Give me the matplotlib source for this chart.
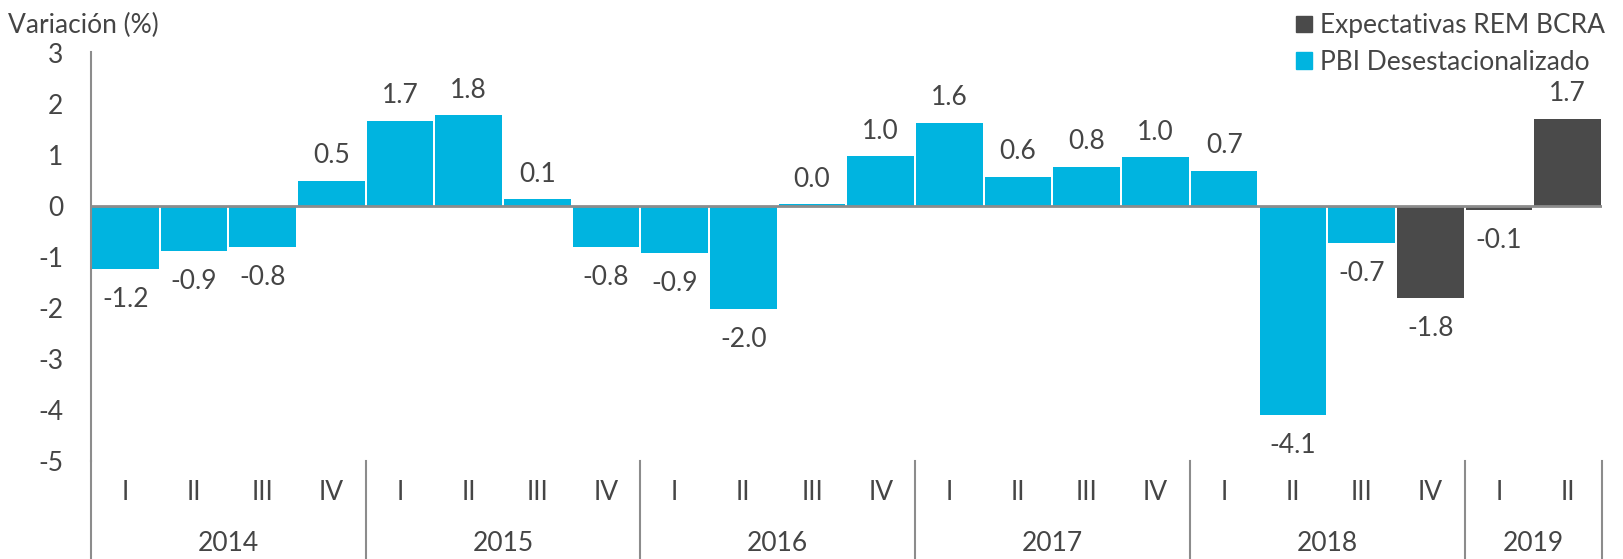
import matplotlib.pyplot as plt
from matplotlib.patches import Patch

# datos trimestrales (variación % desestacionalizada)
years = ["2014", "2015", "2016", "2017", "2018", "2019"]
quarters_per_year = [4, 4, 4, 4, 4, 2]
quarter_labels = ["I", "II", "III", "IV"] * 5 + ["I", "II"]
values = [-1.24, -0.88, -0.81, 0.50,
          1.67, 1.78, 0.13, -0.81,
          -0.92, -2.02, 0.04, 0.98,
          1.63, 0.57, 0.77, 0.96,
          0.69, -4.10, -0.73, -1.80,
          -0.08, 1.71]
is_rem = [False] * 19 + [True] * 3

CYAN = "#00B4E0"
DARK = "#4A4A4A"
TEXT = "#454545"
LINE = "#8C8C8C"
FS = 19

plt.rcParams["font.family"] = ["Lato", "DejaVu Sans"]
plt.rcParams["axes.unicode_minus"] = False

fig = plt.figure(figsize=(16.23, 5.59), dpi=100)
ax = fig.add_axes([0.056, 0.175, 0.931, 0.732])

x = list(range(len(values)))
colors = [DARK if r else CYAN for r in is_rem]
ax.bar(x, values, width=0.97, color=colors, zorder=2)
ax.axhline(0, color=LINE, lw=2, zorder=3)

for xi, v in zip(x, values):
    if v >= 0:
        ax.annotate(f"{v:.1f}", (xi, v), xytext=(0, 9), textcoords="offset points",
                    ha="center", va="bottom", fontsize=FS, color=TEXT)
    else:
        ax.annotate(f"{v:.1f}", (xi, v), xytext=(0, -13), textcoords="offset points",
                    ha="center", va="top", fontsize=FS, color=TEXT)

ax.set_xlim(-0.5, len(values) - 0.5)
ax.set_ylim(-5, 3.02)
ax.set_yticks(range(-5, 4))
ax.set_yticklabels([str(t) for t in range(-5, 4)], fontsize=FS, color=TEXT)
ax.tick_params(axis="y", length=0, pad=20)
ax.set_xticks([])

for s in ["top", "right", "bottom"]:
    ax.spines[s].set_visible(False)
ax.spines["left"].set_color(LINE)
ax.spines["left"].set_linewidth(1.5)

# etiquetas de trimestre y año debajo del eje
trans = ax.get_xaxis_transform()
for xi, q in zip(x, quarter_labels):
    ax.text(xi, -0.076, q, transform=trans, ha="center", va="center",
            fontsize=FS, color=TEXT)

start = 0
seps = [-0.5]
for yr, n in zip(years, quarters_per_year):
    ax.text(start + (n - 1) / 2, -0.2, yr, transform=trans, ha="center", va="center",
            fontsize=FS, color=TEXT)
    start += n
    seps.append(start - 0.5)

for sx in seps:
    ax.plot([sx, sx], [0, -0.245], transform=trans, color=LINE, lw=1.5, clip_on=False)

fig.text(0.005, 0.955, "Variación (%)", fontsize=FS, color=TEXT,
         ha="left", va="center")

handles = [Patch(color=DARK, label="Expectativas REM BCRA"),
           Patch(color=CYAN, label="PBI Desestacionalizado")]
leg = fig.legend(handles=handles, loc="upper right", bbox_to_anchor=(0.997, 1.0),
                 frameon=False, fontsize=FS, handlelength=0.6, handleheight=0.6,
                 handletextpad=0.3, labelspacing=0.45, borderaxespad=0.1)
for t in leg.get_texts():
    t.set_color(TEXT)

fig.savefig("out.png", dpi=100)
